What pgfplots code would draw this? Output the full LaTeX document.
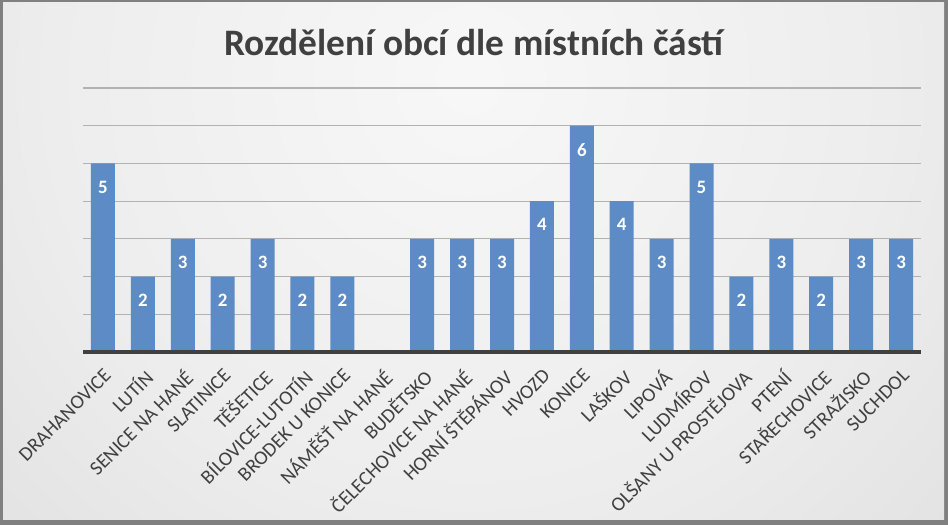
\documentclass[border=0pt]{standalone}
\usepackage{pgfplots}
\pgfplotsset{compat=1.18}
\usepackage{fontspec}
\setmainfont{Carlito}
\definecolor{barblue}{RGB}{92,139,198}
\definecolor{framegray}{RGB}{128,128,128}
\definecolor{txt}{RGB}{64,64,64}
\pgfdeclareradialshading{bgshade}{\pgfpoint{0bp}{0bp}}{color(0bp)=(white!97!black); color(8bp)=(white!93!black); color(25bp)=(white!78!black); color(50bp)=(white!78!black)}
\begin{document}
\begin{tikzpicture}
\path[use as bounding box] (0bp,0bp) rectangle (948bp,525bp);
\fill[framegray] (0bp,0bp) rectangle (948bp,525bp);
\begin{scope}
\clip (3bp,5bp) rectangle (944bp,522bp);
\shade[shading=bgshade] (470bp,445bp) circle (1300bp);
\end{scope}
\node[font=\fontsize{37.5}{40}\selectfont\bfseries, text=txt] at (474bp,482bp) {Rozdělení obcí dle místních částí};
\begin{axis}[
  at={(83bp,173bp)}, anchor=south west, scale only axis,
  width=838bp, height=264bp,
  xmin=-0.5, xmax=20.5, ymin=0, ymax=7,
  ybar, bar width=24bp,
  axis line style={draw=none},
  major tick length=0pt,
  ytick={1,...,7}, yticklabels={},
  ymajorgrids, grid style={line width=1.2bp, color=gray!60},
  xtick={0,...,20},
  xticklabels={DRAHANOVICE,LUTÍN,SENICE NA HANÉ,SLATINICE,TĚŠETICE,BÍLOVICE-LUTOTÍN,BRODEK U KONICE,NÁMĚŠŤ NA HANÉ,BUDĚTSKO,ČELECHOVICE NA HANÉ,HORNÍ ŠTĚPÁNOV,HVOZD,KONICE,LAŠKOV,LIPOVÁ,LUDMÍROV,OLŠANY U PROSTĚJOVA,PTENÍ,STAŘECHOVICE,STRAŽISKO,SUCHDOL},
  xticklabel style={rotate=45, anchor=north east, font=\fontsize{20}{21}\selectfont, text=txt, inner sep=1bp},
  xticklabel shift=14bp,
  /pgf/number format/assume math mode=true,
  nodes near coords,
  every node near coord/.append style={anchor=north, yshift=-14bp, font=\fontsize{19}{20}\selectfont\bfseries, text=white},
  clip=false,
]
\addplot[fill=barblue, draw=none] coordinates {
(0,5) (1,2) (2,3) (3,2) (4,3) (5,2) (6,2) (8,3) (9,3) (10,3)
(11,4) (12,6) (13,4) (14,3) (15,5) (16,2) (17,3) (18,2) (19,3) (20,3)};
\draw[line width=3bp, color=txt] (axis cs:-0.5,0) -- (axis cs:20.5,0);
\end{axis}
\end{tikzpicture}
\end{document}
